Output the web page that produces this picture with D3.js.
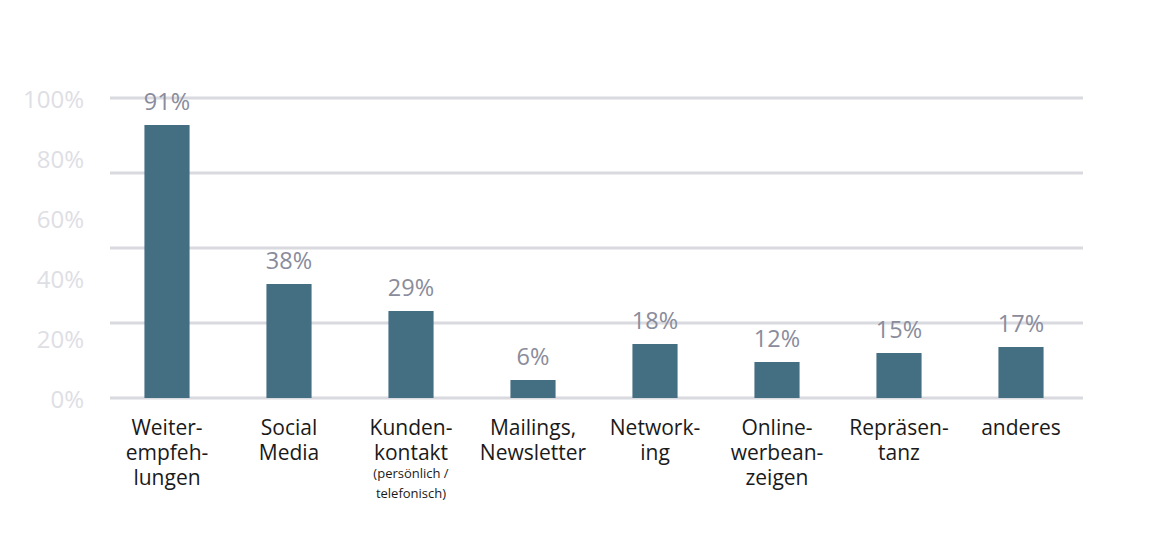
<!DOCTYPE html>
<html><head><meta charset="utf-8">
<script src="https://cdn.jsdelivr.net/npm/d3@7"></script>
<style>body{margin:0;background:#fff}svg{display:block}text{font-family:"Open Sans",sans-serif}</style>
</head><body><svg id="c" width="1170" height="546"></svg>
<script>
const categories = ["Weiterempfehlungen","Social Media","Kundenkontakt","Mailings, Newsletter","Networking","Onlinewerbeanzeigen","Repräsentanz","anderes"];
const categoryLines = [["Weiter-","empfeh-","lungen"],["Social","Media"],["Kunden-","kontakt"],["Mailings,","Newsletter"],["Network-","ing"],["Online-","werbean-","zeigen"],["Repräsen-","tanz"],["anderes"]];
const categoryNotes = [[],[],["(persönlich /","telefonisch)"],[],[],[],[],[]];
const values = [91,38,29,6,18,12,15,17];
const tickLabels = [0,20,40,60,80,100];
const gridValues = [0,25,50,75,100];

const svg = d3.select("#c");
const x = d3.scaleBand().domain(categories).range([106,1082]).paddingInner(0.63).paddingOuter(0.315);
const y = d3.scaleLinear().domain([0,100]).range([398,98]);

svg.append("g").selectAll("line").data(gridValues).join("line")
  .attr("x1",110).attr("x2",1083).attr("y1",d=>y(d)).attr("y2",d=>y(d))
  .attr("stroke","#d9d9e0").attr("stroke-width",3);

svg.append("g").selectAll("text").data(tickLabels).join("text")
  .attr("x",84).attr("y",d=>y(d)+1).attr("dy","0.36em").attr("text-anchor","end")
  .attr("font-size",24).attr("fill","#dedee5").text(d=>d+"%");

svg.append("g").selectAll("rect").data(values).join("rect")
  .attr("x",(d,i)=>x(categories[i])).attr("width",x.bandwidth())
  .attr("y",d=>y(d)).attr("height",d=>y(0)-y(d)).attr("fill","#446f82");

svg.append("g").selectAll("text").data(values).join("text")
  .attr("x",(d,i)=>x(categories[i])+x.bandwidth()/2).attr("y",d=>y(d)-15)
  .attr("text-anchor","middle").attr("font-size",23.5).attr("fill","#8a8c9c").text(d=>d+"%");

const lab = svg.append("g");
categories.forEach((c,i)=>{
  const cx = x(c)+x.bandwidth()/2;
  categoryLines[i].forEach((t,j)=>{
    lab.append("text").attr("x",cx).attr("y",435+j*25).attr("text-anchor","middle")
      .attr("font-size",21).attr("fill","#1a1a1a").text(t);
  });
  categoryNotes[i].forEach((t,j)=>{
    lab.append("text").attr("x",cx).attr("y",478+j*20).attr("text-anchor","middle")
      .attr("font-size",13).attr("fill","#1a1a1a").text(t);
  });
});
</script></body></html>
